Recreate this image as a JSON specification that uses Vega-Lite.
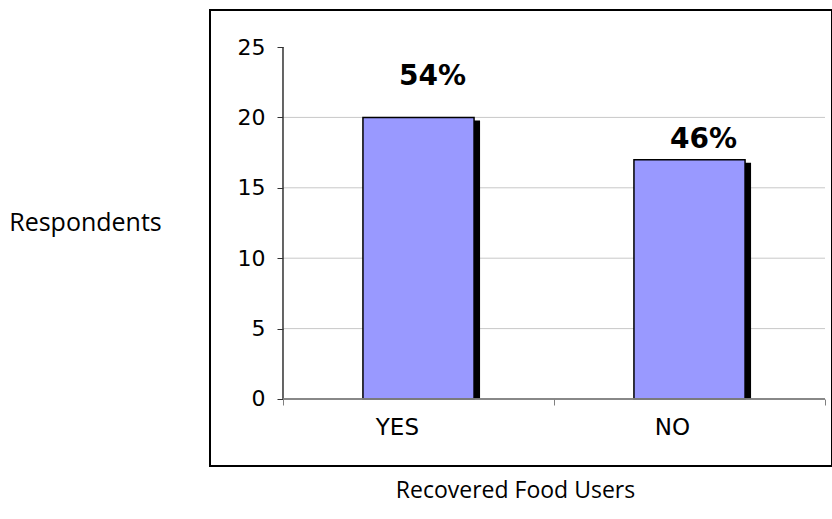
{
  "$schema": "https://vega.github.io/schema/vega-lite/v6.json",
  "width": 622,
  "height": 456,
  "autosize": {"type": "none"},
  "padding": {"left": 210, "top": 10, "right": 0, "bottom": 53},
  "background": "white",
  "config": {
    "view": {"stroke": "black", "strokeWidth": 2},
    "axis": {"labelFont": "DejaVu Sans", "titleFont": "Open Sans", "labelColor": "black", "titleColor": "black", "titleFontWeight": "normal"}
  },
  "datasets": {
    "bars": [
      {"category": "YES", "respondents": 20, "label": "54%", "label_at": 22.3},
      {"category": "NO", "respondents": 17, "label": "46%", "label_at": 17.8}
    ],
    "grid": [{"v": 5}, {"v": 10}, {"v": 15}, {"v": 20}]
  },
  "layer": [
    {
      "data": {"name": "grid"},
      "mark": {"type": "rule", "color": "#c8c8c8", "strokeWidth": 1},
      "encoding": {
        "y": {"field": "v", "type": "quantitative", "title": "Respondents"},
        "x": {"datum": "YES", "type": "nominal", "bandPosition": 0},
        "x2": {"datum": "NO", "bandPosition": 1}
      }
    },
    {
      "data": {"name": "bars"},
      "mark": {"type": "bar", "fill": "black", "width": {"band": 0.41}, "xOffset": 6, "x2Offset": 6, "yOffset": 3},
      "encoding": {
        "x": {"field": "category", "type": "nominal", "title": "Recovered Food Users"},
        "y": {"field": "respondents", "type": "quantitative", "title": "Respondents"},
        "y2": {"datum": 0}
      }
    },
    {
      "data": {"name": "bars"},
      "mark": {"type": "bar", "fill": "#9999FF", "stroke": "black", "strokeWidth": 1.5, "width": {"band": 0.41}},
      "encoding": {
        "x": {
          "field": "category",
          "type": "nominal",
          "title": "Recovered Food Users",
          "scale": {"domain": ["YES", "NO"], "paddingInner": 0, "paddingOuter": 0.1476, "align": 0.9125},
          "axis": {
            "orient": "bottom",
            "offset": -67,
            "domain": false,
            "tickBand": "extent",
            "tickSize": 6,
            "tickColor": "#808080",
            "labelAngle": 0,
            "labelFontSize": 23,
            "labelPadding": 22,
            "titleFontSize": 23,
            "titleX": 305,
            "titleY": 91,
            "titleBaseline": "middle",
            "titleAnchor": null,
            "titleAlign": "center"
          }
        },
        "y": {
          "field": "respondents",
          "type": "quantitative",
          "title": "Respondents",
          "scale": {"domain": [-4.76, 27.63], "nice": false, "zero": false},
          "axis": {
            "orient": "left",
            "offset": -73,
            "values": [0, 5, 10, 15, 20, 25],
            "domain": false,
            "grid": false,
            "tickSize": 6,
            "tickColor": "#333333",
            "labelFontSize": 22,
            "labelPadding": 12,
            "titleFontSize": 25,
            "titleAngle": 0,
            "titleX": -198,
            "titleY": 212,
            "titleAlign": "center",
            "titleBaseline": "middle",
            "titleAnchor": null
          }
        },
        "y2": {"datum": 0}
      }
    },
    {
      "data": {"name": "bars"},
      "mark": {"type": "rule", "color": "#333333", "strokeWidth": 1},
      "encoding": {
        "x": {"datum": "YES", "type": "nominal", "bandPosition": 0},
        "y": {"datum": 0, "type": "quantitative"},
        "y2": {"datum": 25}
      }
    },
    {
      "data": {"name": "bars"},
      "mark": {"type": "rule", "color": "#808080", "strokeWidth": 1.5},
      "encoding": {
        "y": {"datum": 0, "type": "quantitative"},
        "x": {"datum": "YES", "type": "nominal", "bandPosition": 0},
        "x2": {"datum": "NO", "bandPosition": 1}
      }
    },
    {
      "data": {"name": "bars"},
      "mark": {"type": "text", "font": "DejaVu Sans", "fontWeight": "bold", "fontSize": 28, "baseline": "alphabetic", "align": "center", "dx": 14, "color": "black"},
      "encoding": {
        "x": {"field": "category", "type": "nominal", "title": "Recovered Food Users"},
        "y": {"field": "label_at", "type": "quantitative", "title": "Respondents"},
        "text": {"field": "label"}
      }
    }
  ]
}
